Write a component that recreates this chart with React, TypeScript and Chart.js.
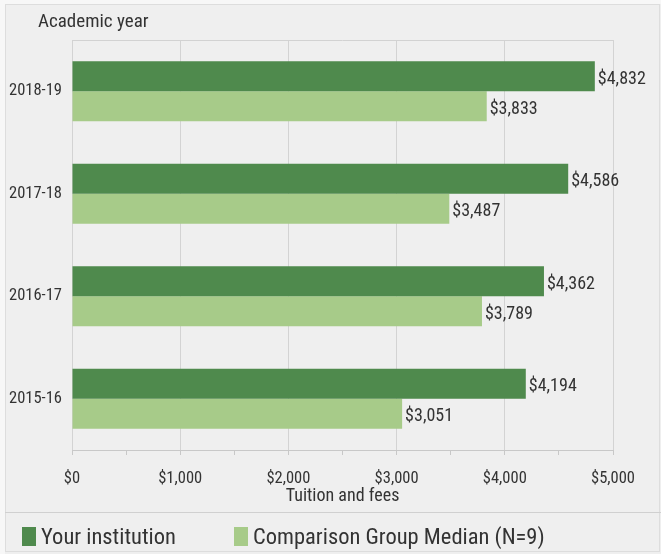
import React, { useEffect, useRef } from "react";
import { Chart, registerables } from "chart.js";

Chart.register(...registerables);

const categories = ["2018-19", "2017-18", "2016-17", "2015-16"];
const yourInstitution = [4832, 4586, 4362, 4194];
const comparisonMedian = [3833, 3487, 3789, 3051];
const seriesNames = ["Your institution", "Comparison Group Median (N=9)"];
const xTitle = "Tuition and fees";
const yTitle = "Academic year";

const DARK = "#4f8a4d";
const LIGHT = "#a7cb89";
const TEXT = "#333333";
const FONT = "'Roboto Condensed', 'Liberation Sans', Arial, sans-serif";

const fmt = (v: number) => "$" + v.toLocaleString("en-US");

const decorPlugin = {
  id: "decor",
  beforeDraw(chart: any) {
    const { ctx, width, height } = chart;
    ctx.save();
    ctx.fillStyle = "#f7f7f7";
    ctx.fillRect(0, 0, width, height);
    ctx.fillStyle = "#efefef";
    ctx.fillRect(5, 4, width - 5, height - 4);
    ctx.strokeStyle = "#dddddd";
    ctx.lineWidth = 1;
    ctx.strokeRect(5.5, 4.5, width - 7, height - 7);
    ctx.restore();
  },
  afterDatasetsDraw(chart: any) {
    const { ctx, chartArea } = chart;
    ctx.save();
    ctx.strokeStyle = "#d2d2d2";
    ctx.lineWidth = 1;
    ctx.beginPath();
    ctx.moveTo(chartArea.left, chartArea.top + 0.5);
    ctx.lineTo(chartArea.right, chartArea.top + 0.5);
    ctx.stroke();

    ctx.fillStyle = TEXT;
    ctx.font = "18px " + FONT;
    ctx.textAlign = "left";
    ctx.textBaseline = "middle";
    chart.data.datasets.forEach((ds: any, i: number) => {
      const meta = chart.getDatasetMeta(i);
      meta.data.forEach((bar: any, j: number) => {
        ctx.fillText(fmt(ds.data[j]), bar.x + 3, bar.y + 3);
      });
    });
    ctx.restore();
  },
  afterDraw(chart: any) {
    const { ctx, width } = chart;
    ctx.save();
    ctx.fillStyle = TEXT;
    ctx.font = "19px " + FONT;
    ctx.textAlign = "left";
    ctx.textBaseline = "middle";
    ctx.fillText(yTitle, 38, 22);

    ctx.strokeStyle = "#d0d0d0";
    ctx.lineWidth = 1;
    ctx.beginPath();
    ctx.moveTo(5, 512.5);
    ctx.lineTo(width, 512.5);
    ctx.stroke();

    const xs = [22, 234];
    ctx.font = "22.5px " + FONT;
    chart.data.datasets.forEach((ds: any, i: number) => {
      ctx.fillStyle = ds.backgroundColor;
      ctx.fillRect(xs[i], 527, 14, 19);
      ctx.fillStyle = TEXT;
      ctx.fillText(ds.label, xs[i] + 19, 538);
    });
    ctx.restore();
  },
};

export default function App() {
  const ref = useRef<HTMLCanvasElement>(null);
  useEffect(() => {
    document.body.style.margin = "0";
    const chart = new Chart(ref.current as HTMLCanvasElement, {
      type: "bar",
      data: {
        labels: categories,
        datasets: [
          { label: seriesNames[0], data: yourInstitution, backgroundColor: DARK, categoryPercentage: 0.585, barPercentage: 1 },
          { label: seriesNames[1], data: comparisonMedian, backgroundColor: LIGHT, categoryPercentage: 0.585, barPercentage: 1 },
        ],
      },
      options: {
        indexAxis: "y",
        responsive: false,
        animation: false,
        layout: { padding: { top: 40, right: 48, bottom: 41, left: 0 } },
        plugins: { legend: { display: false }, tooltip: { enabled: false } },
        scales: {
          x: {
            min: 0,
            max: 5000,
            ticks: {
              stepSize: 500,
              autoSkip: false,
              maxRotation: 0,
              padding: 14,
              color: TEXT,
              font: { family: FONT, size: 16.5 },
              callback: (v: any) => (Number(v) % 1000 === 0 ? fmt(Number(v)) : ""),
            },
            grid: {
              color: (c: any) => (c.tick && c.tick.value % 1000 === 0 ? "#d3d3d3" : "rgba(0,0,0,0)"),
              tickColor: "#c8c8c8",
              tickLength: 5,
              drawTicks: true,
            },
            border: { display: true, color: "#c8c8c8" },
            title: {
              display: true,
              text: xTitle,
              color: TEXT,
              font: { family: FONT, size: 18 },
              padding: { top: 0, bottom: 6 },
            },
            afterFit: (s: any) => {
              s.height = 63;
            },
          },
          y: {
            ticks: { color: TEXT, font: { family: FONT, size: 16.5 }, padding: 2 },
            grid: { display: false },
            border: { display: false },
            afterFit: (s: any) => {
              s.width = 72;
            },
          },
        },
      },
      plugins: [decorPlugin],
    });
    return () => chart.destroy();
  }, []);
  return <canvas ref={ref} width={661} height={554} style={{ display: "block" }} />;
}
